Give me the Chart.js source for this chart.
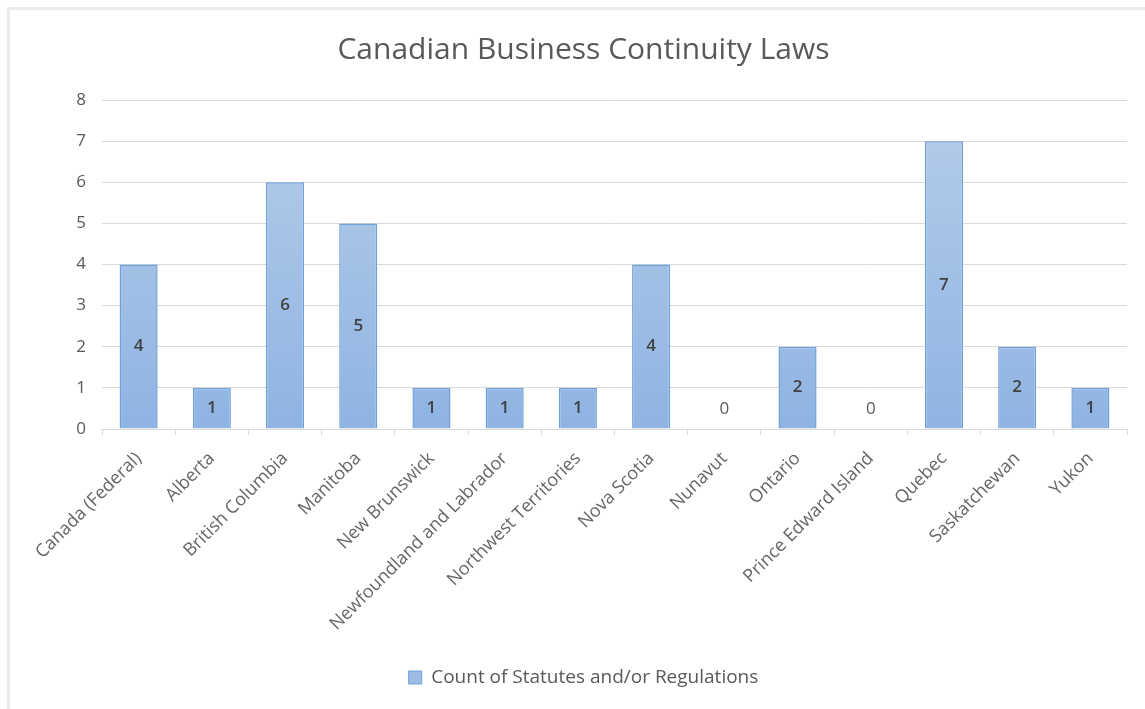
<!DOCTYPE html>
<html>
<head>
<meta charset="utf-8">
<script src="https://cdn.jsdelivr.net/npm/chart.js@4.4.1/dist/chart.umd.min.js"></script>
<style>
  html, body { margin: 0; padding: 0; background: #fff; }
  #marco {
    position: absolute; left: 7px; top: 7px; width: 1145px; height: 709px;
    border-left: 3px solid #ebebeb; border-top: 3px solid #ebebeb;
  }
  #caja { position: absolute; left: 0; top: 0; width: 1145px; height: 709px; }
</style>
</head>
<body>
<div id="marco"></div>
<div id="caja"><canvas id="graficoLeyes"></canvas></div>
<script>
/* ============================
   DATOS
   ============================ */
const provincias = [
  "Canada (Federal)", "Alberta", "British Columbia", "Manitoba", "New Brunswick",
  "Newfoundland and Labrador", "Northwest Territories", "Nova Scotia", "Nunavut",
  "Ontario", "Prince Edward Island", "Quebec", "Saskatchewan", "Yukon"
];
const cantidadLeyes = [4, 1, 6, 5, 1, 1, 1, 4, 0, 2, 0, 7, 2, 1];
const ticksY = [0, 1, 2, 3, 4, 5, 6, 7, 8];

const tituloGrafico = "Canadian Business Continuity Laws";
const nombreSerie = "Count of Statutes and/or Regulations";

const FUENTE = "'Open Sans', 'Liberation Sans', sans-serif";
const GRIS_TEXTO = "#595959";

// Degradado de las barras (claro arriba, más oscuro abajo)
function rellenoBarra(ctx) {
  const chart = ctx.chart;
  const area = chart.chartArea;
  if (!area) return "#a3c0e6";
  const g = chart.ctx.createLinearGradient(0, area.top, 0, area.bottom);
  g.addColorStop(0, "#b6cdea");
  g.addColorStop(1, "#8fb4e2");
  return g;
}

// Etiquetas de valor dentro de cada barra
const etiquetasValor = {
  id: "etiquetasValor",
  afterDatasetsDraw(chart) {
    const ctx = chart.ctx;
    const meta = chart.getDatasetMeta(0);
    ctx.save();
    ctx.textAlign = "center";
    ctx.textBaseline = "middle";
    meta.data.forEach((barra, i) => {
      const v = cantidadLeyes[i];
      const y = v > 0 ? (barra.y + barra.base) / 2 : barra.base - 20;
      ctx.font = (v > 0 ? "600 " : "") + "17px " + FUENTE;
      ctx.fillStyle = v > 0 ? "#404040" : GRIS_TEXTO;
      ctx.fillText(String(v), barra.x, y);
    });
    ctx.restore();
  }
};

const ctx = document.getElementById("graficoLeyes").getContext("2d");
new Chart(ctx, {
  type: "bar",
  data: {
    labels: provincias,
    datasets: [{
      label: nombreSerie,
      data: cantidadLeyes,
      backgroundColor: rellenoBarra,
      borderColor: "#6fa0d8",
      borderWidth: 1.5,
      categoryPercentage: 1,
      barPercentage: 0.52
    }]
  },
  options: {
    responsive: true,
    maintainAspectRatio: false,
    animation: false,
    layout: { padding: { top: 10, left: 40, right: 18, bottom: 12 } },
    plugins: {
      title: {
        display: true,
        text: tituloGrafico,
        color: GRIS_TEXTO,
        font: { family: FUENTE, size: 30, weight: "normal" },
        padding: { top: 22, bottom: 32 }
      },
      legend: {
        position: "bottom",
        labels: {
          color: GRIS_TEXTO,
          font: { family: FUENTE, size: 19 },
          boxWidth: 13,
          boxHeight: 13,
          padding: 10,
          generateLabels: () => [{
            text: nombreSerie,
            fillStyle: "#9dbde5",
            strokeStyle: "#6fa0d8",
            lineWidth: 1,
            fontColor: GRIS_TEXTO
          }]
        }
      },
      tooltip: { enabled: false }
    },
    scales: {
      x: {
        grid: {
          display: true,
          drawOnChartArea: false,
          drawTicks: true,
          tickLength: 6,
          color: "#d9d9d9",
          offset: true
        },
        border: { color: "#d9d9d9", width: 1 },
        ticks: {
          color: "#666666",
          font: { family: FUENTE, size: 18 },
          minRotation: 45,
          maxRotation: 45,
          autoSkip: false,
          padding: 13
        },
        afterFit(scale) { scale.height = 229; }
      },
      y: {
        min: 0,
        max: 8,
        grid: { color: "#d9d9d9", drawTicks: false },
        border: { display: false },
        afterBuildTicks(scale) { scale.ticks = ticksY.map(v => ({ value: v })); },
        ticks: {
          color: GRIS_TEXTO,
          font: { family: FUENTE, size: 17 },
          padding: 16
        },
        afterFit(scale) { scale.width = 62; }
      }
    }
  },
  plugins: [etiquetasValor]
});
</script>
</body>
</html>
